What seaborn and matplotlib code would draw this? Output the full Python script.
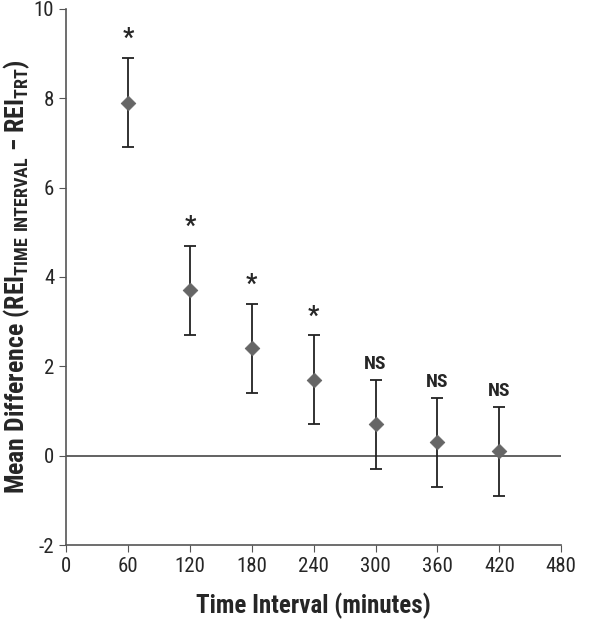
import matplotlib
matplotlib.use("Agg")
import matplotlib.pyplot as plt
import seaborn as sns
import pandas as pd
from matplotlib import font_manager

minutes = [60, 120, 180, 240, 300, 360, 420]
mean_diff = [7.9, 3.7, 2.4, 1.7, 0.7, 0.3, 0.1]
err = [1.0, 1.0, 1.0, 1.0, 1.0, 1.0, 1.0]
signif = ["*", "*", "*", "*", "NS", "NS", "NS"]

df = pd.DataFrame({"minutes": minutes, "diff": mean_diff, "err": err, "sig": signif})

sns.set_style("ticks")
names = {f.name for f in font_manager.fontManager.ttflist}
fam = "Liberation Sans"
for cand in ["Roboto Condensed", "Liberation Sans Narrow", "Arial Narrow", "Open Sans Condensed"]:
    if cand in names:
        fam = cand
        break
narrow = fam != "Liberation Sans"
plt.rcParams["font.family"] = [fam, "DejaVu Sans"]
plt.rcParams["mathtext.fontset"] = "custom"
plt.rcParams["mathtext.rm"] = fam
plt.rcParams["mathtext.bf"] = fam + ":bold"
plt.rcParams["axes.unicode_minus"] = False

fig = plt.figure(figsize=(6.12, 6.23), dpi=100)
ax = fig.add_axes([0.108, 0.125, 0.809, 0.861])

ax.axhline(0, color="#555555", lw=1.3, zorder=1)
ax.errorbar(df["minutes"], df["diff"], yerr=df["err"], fmt="none",
            ecolor="#222222", elinewidth=1.3, capsize=4, capthick=1.3, zorder=2)
sns.scatterplot(data=df, x="minutes", y="diff", marker="D", s=55,
                color="#666666", edgecolor="#666666", ax=ax, zorder=3)

for _, r in df.iterrows():
    ax.text(r["minutes"], r["diff"] + r["err"] + 0.15, r["sig"],
            ha="center", va="bottom", fontweight="bold",
            fontsize=18 if r["sig"] == "*" else 14)

ax.set_xlim(0, 480)
ax.set_ylim(-2, 10)
ax.set_xticks(range(0, 481, 60))
ax.set_yticks(range(-2, 11, 2))
ax.tick_params(labelsize=15 if narrow else 13.5, length=5, color="#555555")
for s in ["top", "right"]:
    ax.spines[s].set_visible(False)
for s in ["left", "bottom"]:
    ax.spines[s].set_color("#555555")
    ax.spines[s].set_linewidth(1.2)

lab_size = 18 if narrow else 15
ax.set_xlabel("Time Interval (minutes)", fontsize=lab_size, fontweight="bold", labelpad=12)
ax.set_ylabel(r"Mean Difference (REI$_{\mathbf{TIME\ INTERVAL}}$ $\mathbf{-}$ REI$_{\mathbf{TRT}}$)",
              fontsize=lab_size + 0.5, fontweight="bold")
ax.yaxis.set_label_coords(-0.068, 0.5)

fig.savefig("out.png", dpi=100)
